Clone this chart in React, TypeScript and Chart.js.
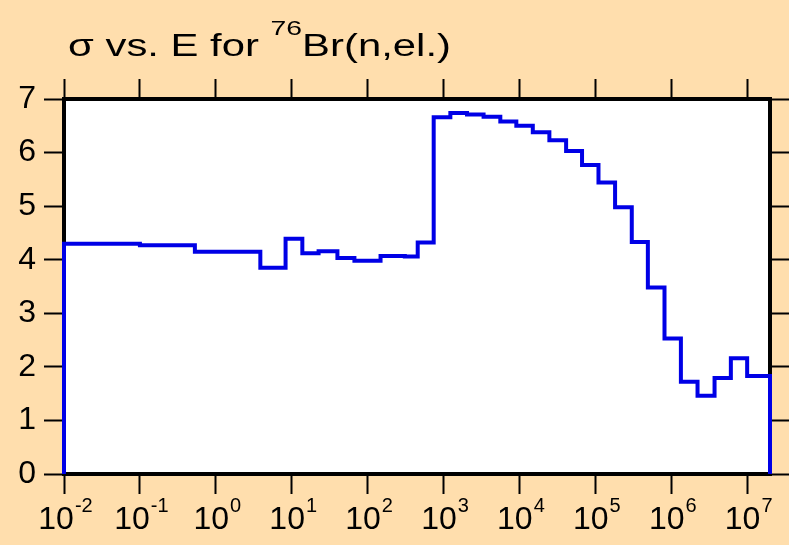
import React, { useEffect, useRef } from 'react';
import { Chart, registerables } from 'chart.js';

Chart.register(...registerables);

// Energy bin edges (eV) and elastic cross-section per bin (b)
const binEdges = [
  0.01, 0.1, 0.53, 3.86, 8.3, 13.8, 22.6, 40, 67, 148, 309, 457,
  742, 1230, 2040, 3370, 5600, 9100, 15000, 24800, 41200, 66800,
  110000, 182000, 302000, 492000, 815000,
  1.34e6, 2.22e6, 3.72e6, 6.1e6, 1e7, 2e7,
];
const sigmaValues = [
  4.30, 4.27, 4.15, 3.85, 4.39, 4.12, 4.16, 4.03, 3.98, 4.07, 4.06, 4.32,
  6.66, 6.74, 6.71, 6.67, 6.58, 6.50, 6.38, 6.23, 6.03, 5.77,
  5.44, 4.98, 4.33, 3.48, 2.53,
  1.72, 1.46, 1.79, 2.16, 1.83,
];
const xTickExponents = [-2, -1, 0, 1, 2, 3, 4, 5, 6, 7];
const yTickValues = [0, 1, 2, 3, 4, 5, 6, 7];
const xMin = 0.01;
const xMax = 2e7;
const yMin = 0;
const yMax = 7;

const FONT = '"Liberation Sans", Arial, Helvetica, sans-serif';
const BG = '#FFDEAD';

export default function App() {
  const canvasRef = useRef<HTMLCanvasElement | null>(null);

  useEffect(() => {
    if (!canvasRef.current) return;

    const points: { x: number; y: number }[] = [];
    points.push({ x: binEdges[0], y: 0 });
    sigmaValues.forEach((v, i) => points.push({ x: binEdges[i], y: v }));
    const last = binEdges[binEdges.length - 1];
    points.push({ x: last, y: sigmaValues[sigmaValues.length - 1] });
    points.push({ x: last, y: 0 });

    const xTickValues = xTickExponents.map((e) => Math.pow(10, e));

    const framePlugin = {
      id: 'framePlugin',
      beforeDraw(chart: any) {
        const { ctx, chartArea } = chart;
        ctx.save();
        ctx.fillStyle = BG;
        ctx.fillRect(0, 0, chart.width, chart.height);
        ctx.fillStyle = '#ffffff';
        ctx.fillRect(chartArea.left, chartArea.top, chartArea.right - chartArea.left, chartArea.bottom - chartArea.top);
        ctx.restore();
      },
      beforeDatasetsDraw(chart: any) {
        const { ctx, chartArea } = chart;
        ctx.save();
        ctx.strokeStyle = '#000';
        ctx.lineWidth = 4;
        ctx.strokeRect(chartArea.left, chartArea.top, chartArea.right - chartArea.left, chartArea.bottom - chartArea.top);
        ctx.restore();
      },
      afterDraw(chart: any) {
        const { ctx } = chart;
        const sx = chart.scales.x;
        ctx.save();
        ctx.fillStyle = '#000';
        ctx.textBaseline = 'alphabetic';
        ctx.textAlign = 'left';
        xTickExponents.forEach((e) => {
          const px = sx.getPixelForValue(Math.pow(10, e));
          const base = '10';
          const exp = String(e);
          ctx.font = `32px ${FONT}`;
          const wb = ctx.measureText(base).width;
          ctx.font = `20px ${FONT}`;
          const we = ctx.measureText(exp).width;
          const start = px - (wb + we) / 2 + 1;
          ctx.font = `32px ${FONT}`;
          ctx.fillText(base, start, 529);
          ctx.font = `20px ${FONT}`;
          ctx.fillText(exp, start + wb + 1, 512);
        });
        ctx.restore();
      },
    };

    const tickGrid = {
      drawOnChartArea: false,
      drawTicks: true,
      tickLength: 20,
      tickColor: '#000',
      tickWidth: 2,
      color: '#000',
    };

    const chart = new Chart(canvasRef.current, {
      type: 'line',
      data: {
        datasets: [
          {
            data: points,
            stepped: true,
            borderColor: '#0000E6',
            borderWidth: 4,
            pointRadius: 0,
            fill: false,
            clip: false,
            xAxisID: 'x',
            yAxisID: 'y',
          },
        ],
      },
      options: {
        animation: false,
        responsive: false,
        layout: { padding: 0 },
        plugins: {
          legend: { display: false },
          tooltip: { enabled: false },
          title: { display: false },
        },
        scales: {
          x: {
            type: 'logarithmic',
            position: 'bottom',
            min: xMin,
            max: xMax,
            afterBuildTicks: (s: any) => {
              s.ticks = xTickValues.map((v) => ({ value: v }));
            },
            afterFit: (s: any) => {
              s.height = 71;
            },
            ticks: { display: false },
            grid: tickGrid,
            border: { display: false },
          },
          x2: {
            type: 'logarithmic',
            position: 'top',
            min: xMin,
            max: xMax,
            afterBuildTicks: (s: any) => {
              s.ticks = xTickValues.map((v) => ({ value: v }));
            },
            afterFit: (s: any) => {
              s.height = 99;
            },
            ticks: { display: false },
            grid: tickGrid,
            border: { display: false },
          },
          y: {
            type: 'linear',
            position: 'left',
            min: yMin,
            max: yMax,
            afterBuildTicks: (s: any) => {
              s.ticks = yTickValues.map((v) => ({ value: v }));
            },
            afterFit: (s: any) => {
              s.width = 64;
            },
            ticks: {
              color: '#000',
              padding: 8,
              font: { family: FONT, size: 32 },
            },
            grid: tickGrid,
            border: { display: false },
          },
          y2: {
            type: 'linear',
            position: 'right',
            min: yMin,
            max: yMax,
            afterBuildTicks: (s: any) => {
              s.ticks = yTickValues.map((v) => ({ value: v }));
            },
            afterFit: (s: any) => {
              s.width = 19;
            },
            ticks: { display: false },
            grid: tickGrid,
            border: { display: false },
          },
        },
      },
      plugins: [framePlugin],
    } as any);

    return () => {
      chart.destroy();
    };
  }, []);

  return (
    <div
      style={{
        position: 'fixed',
        left: 0,
        top: 0,
        width: 789,
        height: 545,
        background: BG,
        overflow: 'hidden',
      }}
    >
      <canvas ref={canvasRef} width={789} height={545} style={{ display: 'block' }} />
      <div
        style={{
          position: 'absolute',
          left: 68,
          top: 30,
          fontFamily: FONT,
          fontSize: 31,
          lineHeight: '31px',
          whiteSpace: 'nowrap',
          color: '#000',
          transform: 'scaleX(1.35)',
          transformOrigin: 'left top',
        }}
      >
        σ vs. E for{' '}
        <span style={{ fontSize: 21, position: 'relative', top: -21 }}>76</span>
        Br(n,el.)
      </div>
    </div>
  );
}
